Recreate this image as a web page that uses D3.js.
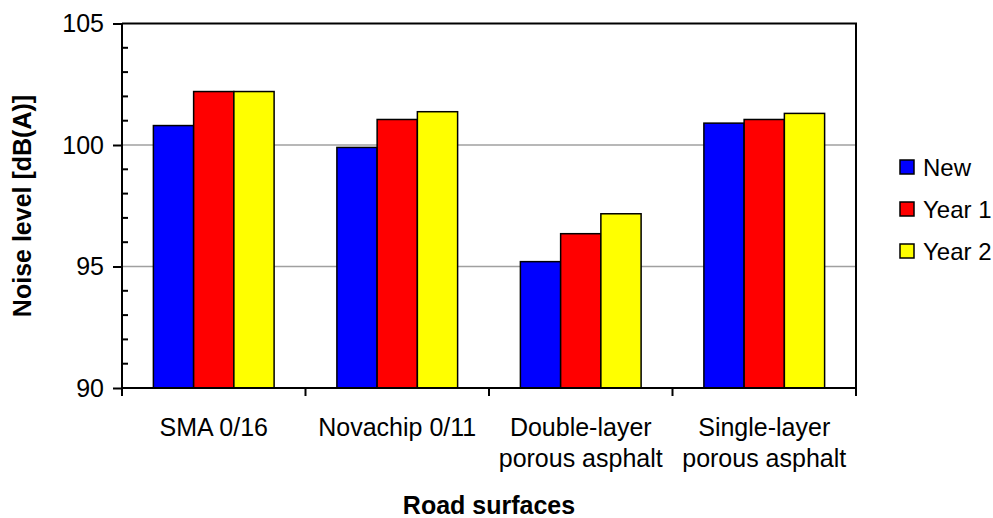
<!DOCTYPE html>
<html>
<head>
<meta charset="utf-8">
<script src="https://cdn.jsdelivr.net/npm/d3@7"></script>
<style>
  body { margin: 0; background: #fff; }
  svg { display: block; font-family: "Liberation Sans", Arial, sans-serif; }
</style>
</head>
<body>
<svg id="svg" width="993" height="518"></svg>
<script>
var categories = [["SMA 0/16"], ["Novachip 0/11"], ["Double-layer", "porous asphalt"], ["Single-layer", "porous asphalt"]];
var seriesNames = ["New", "Year 1", "Year 2"];
var seriesColors = ["#0000ff", "#ff0000", "#ffff00"];
var newValues = [100.8, 99.9, 95.2, 100.9];
var year1Values = [102.2, 101.05, 96.35, 101.05];
var year2Values = [102.2, 101.37, 97.17, 101.3];
var yTicks = [90, 95, 100, 105];
var yMinorTicks = [91, 92, 93, 94, 96, 97, 98, 99, 101, 102, 103, 104];

var seriesValues = [newValues, year1Values, year2Values];

var svg = d3.select("#svg");
var plotLeft = 122, plotRight = 856, plotTop = 23.5, plotBottom = 388;

var catKeys = categories.map(function(c) { return c.join(" "); });
var x0 = d3.scaleBand().domain(catKeys).range([plotLeft, plotRight]).padding(0);
var x1 = d3.scaleBand().domain(seriesNames).range([0, x0.bandwidth()]).paddingInner(0).paddingOuter(0.78);
var y = d3.scaleLinear().domain([90, 105]).range([plotBottom, plotTop]);

// gridlines
svg.append("g").selectAll("line")
  .data(yTicks.filter(function(d) { return d > 90 && d < 105; }))
  .enter().append("line")
  .attr("x1", plotLeft).attr("x2", plotRight)
  .attr("y1", function(d) { return y(d); })
  .attr("y2", function(d) { return y(d); })
  .attr("stroke", "#a0a0a0")
  .attr("stroke-width", 1.5);

// bars
var groups = svg.append("g").selectAll("g")
  .data(catKeys)
  .enter().append("g")
  .attr("transform", function(d) { return "translate(" + x0(d) + ",0)"; });

groups.selectAll("rect")
  .data(function(d, i) {
    return seriesNames.map(function(s, j) { return { s: s, v: seriesValues[j][i], c: seriesColors[j] }; });
  })
  .enter().append("rect")
  .attr("x", function(d) { return x1(d.s); })
  .attr("width", x1.bandwidth())
  .attr("y", function(d) { return y(d.v); })
  .attr("height", function(d) { return plotBottom - y(d.v); })
  .attr("fill", function(d) { return d.c; })
  .attr("stroke", "#000")
  .attr("stroke-width", 1.5);

// plot border top/right
svg.append("path")
  .attr("d", "M" + plotLeft + "," + plotTop + "H" + plotRight + "V" + plotBottom)
  .attr("fill", "none")
  .attr("stroke", "#000")
  .attr("stroke-width", 2);

// y axis
var yAxis = d3.axisLeft(y).tickValues(yTicks).tickSize(9).tickPadding(9);
var yg = svg.append("g").attr("transform", "translate(" + plotLeft + ",0)").call(yAxis);
yg.select(".domain").attr("stroke-width", 2).attr("d", "M0," + plotTop + "V" + plotBottom);
yg.selectAll(".tick line").attr("stroke-width", 2);
yg.selectAll(".tick text").style("font-size", "25px").attr("fill", "#000");
yg.selectAll(".minor")
  .data(yMinorTicks)
  .enter().append("line")
  .attr("x1", 0).attr("x2", 6)
  .attr("y1", function(d) { return y(d); })
  .attr("y2", function(d) { return y(d); })
  .attr("stroke", "#000")
  .attr("stroke-width", 2);

// x axis: boundaries ticks
var xg = svg.append("g");
xg.append("line")
  .attr("x1", plotLeft - 1).attr("x2", plotRight + 1)
  .attr("y1", plotBottom).attr("y2", plotBottom)
  .attr("stroke", "#000").attr("stroke-width", 2);
var bounds = catKeys.map(function(d) { return x0(d); }).concat([plotRight]);
xg.selectAll(".xt")
  .data(bounds)
  .enter().append("line")
  .attr("x1", function(d) { return d; }).attr("x2", function(d) { return d; })
  .attr("y1", plotBottom).attr("y2", plotBottom + 8)
  .attr("stroke", "#000").attr("stroke-width", 2);

xg.selectAll(".xl")
  .data(categories)
  .enter().append("text")
  .attr("text-anchor", "middle")
  .attr("x", function(d, i) { return x0(catKeys[i]) + x0.bandwidth() / 2; })
  .attr("y", 436)
  .style("font-size", "25px")
  .selectAll("tspan")
  .data(function(d) { return d; })
  .enter().append("tspan")
  .attr("x", function() { return d3.select(this.parentNode).attr("x"); })
  .attr("dy", function(d, i) { return i == 0 ? 0 : 31; })
  .text(function(d) { return d; });

// axis titles
svg.append("text")
  .attr("x", (plotLeft + plotRight) / 2)
  .attr("y", 514)
  .attr("text-anchor", "middle")
  .style("font-size", "25px")
  .style("font-weight", "bold")
  .text("Road surfaces");

svg.append("text")
  .attr("transform", "translate(31," + 206 + ") rotate(-90)")
  .attr("text-anchor", "middle")
  .style("font-size", "25px")
  .style("font-weight", "bold")
  .text("Noise level [dB(A)]");

// legend
var legend = svg.append("g").selectAll("g")
  .data(seriesNames)
  .enter().append("g")
  .attr("transform", function(d, i) { return "translate(900," + (167 + i * 42) + ")"; });
legend.append("rect")
  .attr("x", 0).attr("y", -7)
  .attr("width", 14).attr("height", 14)
  .attr("fill", function(d, i) { return seriesColors[i]; })
  .attr("stroke", "#000")
  .attr("stroke-width", 1.5);
legend.append("text")
  .attr("x", 23).attr("y", 8.5)
  .style("font-size", "24px")
  .text(function(d) { return d; });
</script>
</body>
</html>
